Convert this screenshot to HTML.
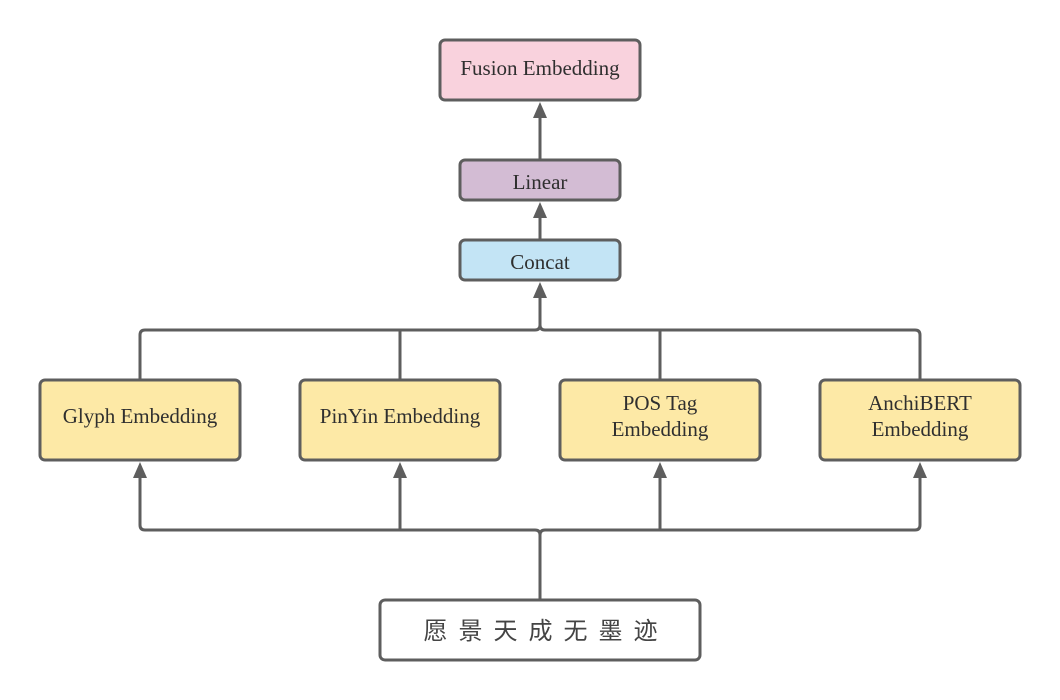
<!DOCTYPE html>
<html><head><meta charset="utf-8"><style>
html,body{margin:0;padding:0;background:#fff;}
svg{display:block;}
text{font-family:"Liberation Serif","Noto Serif CJK SC",serif;fill:#2f2f2f;}
.cjk{font-family:"Noto Sans CJK SC","WenQuanYi Zen Hei",sans-serif;fill:#444;}
</style></head><body>
<svg width="1060" height="700" viewBox="0 0 1060 700" xmlns="http://www.w3.org/2000/svg">
<g stroke="#5e5e5e" stroke-width="3" fill="none">
<path d="M140,380 V335 Q140,330 145,330 H535 Q540,330 540,325 Q540,330 545,330 H915 Q920,330 920,335 V380"/>
<path d="M400,380 V330 M660,380 V330"/>
<path d="M540,325 V294"/>
<path d="M540,240 V214"/>
<path d="M540,160 V114"/>
<path d="M540,600 V535 Q540,530 535,530 H145 Q140,530 140,525 V474"/>
<path d="M540,535 Q540,530 545,530 H915 Q920,530 920,525 V474"/>
<path d="M400,530 V474"/>
<path d="M660,530 V474"/>
</g>
<g fill="#5e5e5e">
<polygon points="540,282 533,298 547,298"/>
<polygon points="540,202 533,218 547,218"/>
<polygon points="540,102 533,118 547,118"/>
<polygon points="140,462 133,478 147,478"/>
<polygon points="400,462 393,478 407,478"/>
<polygon points="660,462 653,478 667,478"/>
<polygon points="920,462 913,478 927,478"/>
</g>
<g stroke="#5e5e5e" stroke-width="3">
<rect x="440" y="40" width="200" height="60" rx="5" fill="#f9d2dd"/>
<rect x="460" y="160" width="160" height="40" rx="5" fill="#d3bcd4"/>
<rect x="460" y="240" width="160" height="40" rx="5" fill="#c3e4f5"/>
<rect x="40" y="380" width="200" height="80" rx="5" fill="#fde9a6"/>
<rect x="300" y="380" width="200" height="80" rx="5" fill="#fde9a6"/>
<rect x="560" y="380" width="200" height="80" rx="5" fill="#fde9a6"/>
<rect x="820" y="380" width="200" height="80" rx="5" fill="#fde9a6"/>
<rect x="380" y="600" width="320" height="60" rx="5" fill="#fff"/>
</g>
<g font-size="21" text-anchor="middle">
<text x="540" y="75">Fusion Embedding</text>
<text x="540" y="189">Linear</text>
<text x="540" y="269">Concat</text>
<text x="140" y="423">Glyph Embedding</text>
<text x="400" y="423">PinYin Embedding</text>
<text x="660" y="410">POS Tag</text>
<text x="660" y="436">Embedding</text>
<text x="920" y="410">AnchiBERT</text>
<text x="920" y="436">Embedding</text>
</g>
<text class="cjk" x="546" y="639" font-size="24" text-anchor="middle" letter-spacing="11">愿景天成无墨迹</text>
</svg>
</body></html>
